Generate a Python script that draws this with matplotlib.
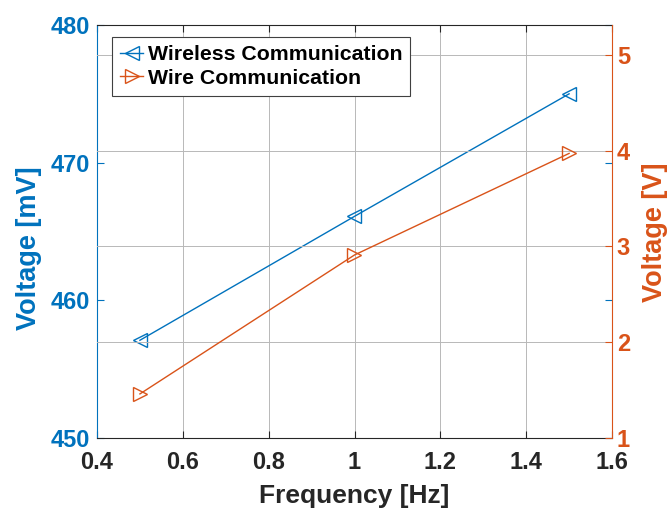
import matplotlib.pyplot as plt
import numpy as np

plt.rcParams['font.family'] = ['Liberation Sans', 'DejaVu Sans']
plt.rcParams['font.weight'] = 'bold'

freq = [0.5, 1.0, 1.5]
wireless_mv = [457.1, 466.1, 475.0]
wire_v = [1.46, 2.91, 3.97]

blue = '#0072BD'
orange = '#D95319'
dark = '#262626'

fig = plt.figure(figsize=(6.67, 5.12), dpi=100)
ax = fig.add_axes([97 / 667, 74 / 512, 515 / 667, 413 / 512])
ax2 = ax.twinx()

l1, = ax.plot(freq, wireless_mv, color=blue, marker='<', markersize=10,
              markerfacecolor='none', lw=1.0, mew=1.0)
l2, = ax2.plot(freq, wire_v, color=orange, marker='>', markersize=10,
               markerfacecolor='none', lw=1.0, mew=1.0)

ax.set_xlim(0.4, 1.6)
ax.set_ylim(450, 480)
ax2.set_ylim(1, 5.31)
ax.set_xticks(np.arange(0.4, 1.61, 0.2))
ax.set_xticklabels(['0.4', '0.6', '0.8', '1', '1.2', '1.4', '1.6'])
ax.set_yticks([450, 460, 470, 480])
ax2.set_yticks([1, 2, 3, 4, 5])

ax.tick_params(axis='x', direction='in', top=True, colors=dark, labelsize=17,
               length=5, pad=9.5)
ax.tick_params(axis='y', direction='in', right=True, colors=blue, labelsize=17,
               length=5, pad=5)
ax2.tick_params(axis='y', direction='in', colors=orange, labelsize=17,
                length=5, pad=3.5)

ax.xaxis.grid(True, color='#b8b8b8', lw=0.7)
ax2.yaxis.grid(True, color='#b8b8b8', lw=0.7)
ax.set_axisbelow(True)

ax.spines['left'].set_color(blue)
ax.spines['right'].set_visible(False)
ax.spines['top'].set_color(dark)
ax.spines['bottom'].set_color(dark)
ax2.spines['left'].set_visible(False)
ax2.spines['top'].set_visible(False)
ax2.spines['bottom'].set_visible(False)
ax2.spines['right'].set_color(orange)

ax.set_xlabel('Frequency [Hz]', fontsize=19, color=dark, fontweight='bold', labelpad=7)
ax.set_ylabel('Voltage [mV]', fontsize=19.5, color=blue, fontweight='bold')
ax2.set_ylabel('Voltage [V]', fontsize=19.5, color=orange, fontweight='bold')
ax.yaxis.set_label_coords(-0.107, 0.46)
ax2.yaxis.set_label_coords(1.058, 0.499)

leg = ax2.legend([l1, l2], ['Wireless Communication', 'Wire Communication'],
                 loc='upper left', bbox_to_anchor=(0.029, 0.971), fontsize=15.3,
                 frameon=True, fancybox=False, edgecolor='#404040', framealpha=1,
                 handlelength=1.1, handletextpad=0.2, borderpad=0.38,
                 labelspacing=0.22, borderaxespad=0.0)
leg.get_frame().set_linewidth(0.8)
for t in leg.get_texts():
    t.set_fontweight('bold')

fig.savefig('out.png', dpi=100)
